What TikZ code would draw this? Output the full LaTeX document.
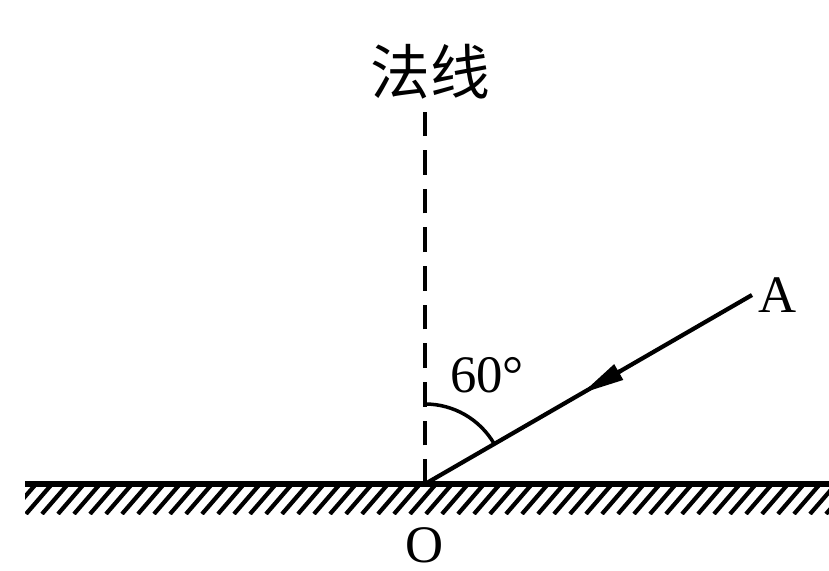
\documentclass[tikz,border=0pt]{standalone}
\usepackage{fontspec}
\setmainfont{Liberation Serif}
\newfontfamily\cjk{Noto Sans CJK SC}
\usetikzlibrary{arrows.meta, calc}

\begin{document}
\begin{tikzpicture}[x=0.02cm, y=-0.02cm, >=Stealth,
  ray/.style={line width=2.4pt, black},
  label/.style={inner sep=0pt, font=\fontsize{30}{30}\selectfont}]

\useasboundingbox (0,0) rectangle (829,571);

\coordinate (O) at (425,484);
\coordinate (A) at (752,295);
\coordinate (N) at (425,105);

%-- surface with hatching
\begin{scope}
  \clip (25,484) rectangle (829,514);
  \foreach \x in {10,26,...,850}
    \draw[line width=2.4pt] (\x,514)--++(26,-30);
\end{scope}
\draw[line width=3pt] (25,484)--(829,484);

%-- normal
\draw[line width=2.2pt, dash pattern=on 14pt off 8pt] (O)--(N);

%-- incident ray
\draw[ray] (A)--(O);
\draw[ray, -{Triangle[length=0.85cm, width=0.34cm]}]
  ($(A)!0.40!(O)$)--($(A)!0.52!(O)$);

%-- angle arc
\draw[line width=2pt] ($(O)+(0,-80)$) arc[start angle=-90, end angle=-30, radius=80];

\node[label, font=\cjk\fontsize{34}{34}\selectfont] (nlabel) at (430,72) {法线};
\node[label] (angle) at (487,375) {60°};
\node[label] (alabel) at (778,295) {A};
\node[label] (olabel) at (425,545) {O};

\end{tikzpicture}
\end{document}
